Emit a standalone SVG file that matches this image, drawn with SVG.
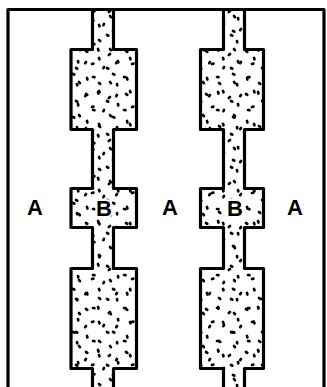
<svg xmlns="http://www.w3.org/2000/svg" width="327" height="387" viewBox="0 0 327 387">
  <style>
    .outline { fill: none; stroke: #000; stroke-width: 3.2; stroke-linejoin: round; }
    .ground { fill: #fff; stroke: none; }
    .grain1 { fill: url(#grainA); stroke: none; }
    .grain2 { fill: url(#grainB); stroke: none; }
    .label { font-family: "Liberation Sans", Arial, sans-serif; font-weight: bold; font-size: 22px; text-anchor: middle; fill: #000; }
    .halo { stroke: #fff; stroke-width: 4; paint-order: stroke; stroke-linejoin: round; }
  </style>
  <defs>
    <!-- two stipple tiles of different size, layered so the repeat is hard to see -->
    <pattern id="grainA" patternUnits="userSpaceOnUse" x="2" y="3" width="40" height="43">
      <path d="M4 5l1.3 .8M16 3l.5 1.5M28 8l-1.2 1M36 15l.3 1.4M10 18l1.4-.4M22 21l-.6 1.2M31 28l1.3 .6M5 32l.4 1.5M17 37l1.2 .9M35 38l.2 1.3" stroke="#000" stroke-width="2.7" stroke-linecap="round" fill="none"/>
    </pattern>
    <pattern id="grainB" patternUnits="userSpaceOnUse" x="11" y="7" width="31" height="33">
      <path d="M6 9l.9 1.1M20 4l1.4 .2M13 22l-.8 1.2M26 18l.5 1.3M3 28l1.3 .7" stroke="#000" stroke-width="2.7" stroke-linecap="round" fill="none"/>
    </pattern>
    <path id="col1" d="M92.5 9V49.5H71V129.5H92.5V188.5H71V227.5H92.5V268.5H71V368.5H92.5V392H113.5V368.5H136.5V268.5H113.5V227.5H136.5V188.5H113.5V129.5H136.5V49.5H113.5V9"/>
    <path id="col2" d="M223.5 9V49.5H200.5V129.5H223.5V188.5H200.5V227.5H223.5V268.5H200.5V368.5H223.5V392H244.5V368.5H263.5V268.5H244.5V227.5H263.5V188.5H244.5V129.5H263.5V49.5H244.5V9"/>
  </defs>

  <rect width="327" height="387" fill="#fff"/>

  <!-- left stippled column -->
  <g id="column-1">
    <use href="#col1" class="ground"/>
    <use href="#col1" class="grain1"/>
    <use href="#col1" class="grain2"/>
    <use href="#col1" class="outline"/>
  </g>

  <!-- right stippled column -->
  <g id="column-2">
    <use href="#col2" class="ground"/>
    <use href="#col2" class="grain1"/>
    <use href="#col2" class="grain2"/>
    <use href="#col2" class="outline"/>
  </g>

  <!-- outer frame, open at the bottom -->
  <g id="frame">
    <path class="outline" d="M8 392V9.5H324V392"/>
  </g>

  <g id="labels">
    <text class="label" x="35" y="215">A</text>
    <text class="label halo" x="104" y="216">B</text>
    <text class="label" x="170" y="215">A</text>
    <text class="label halo" x="235" y="216">B</text>
    <text class="label" x="295" y="215">A</text>
  </g>
</svg>
